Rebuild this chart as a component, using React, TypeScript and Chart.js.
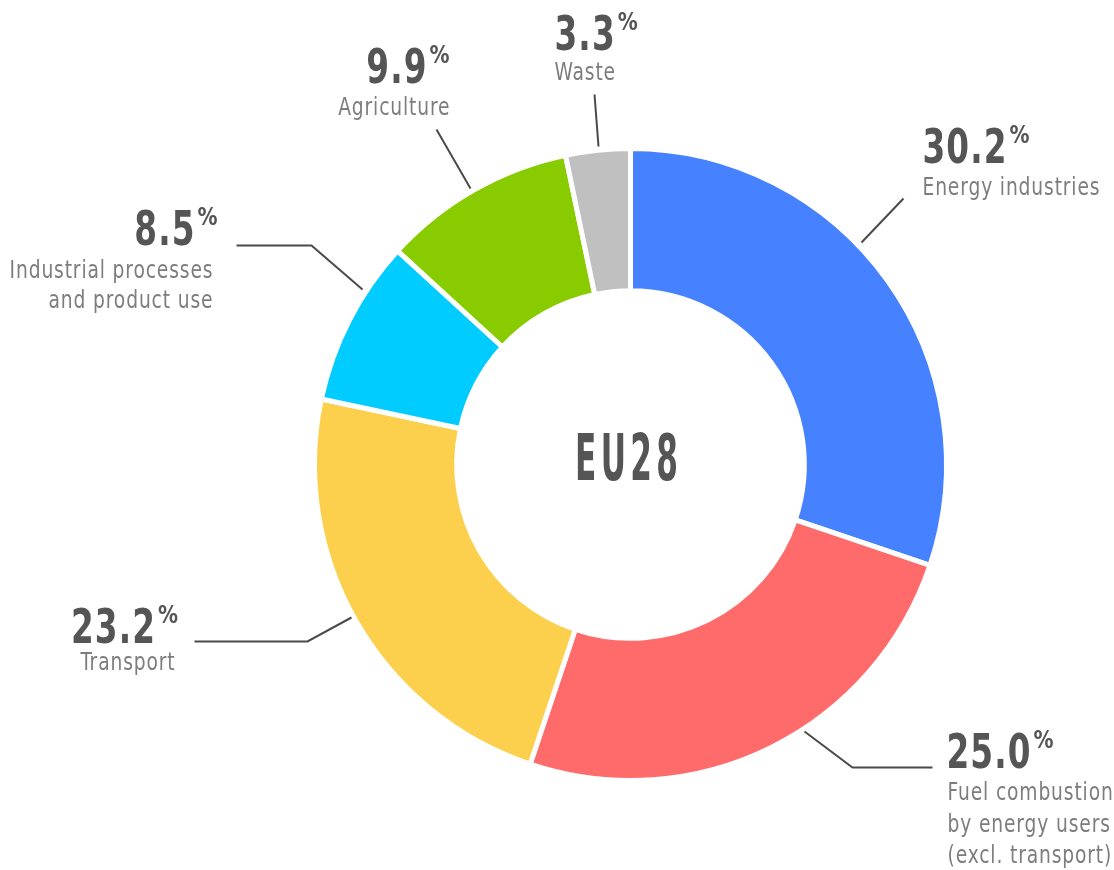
import React, { useEffect, useRef } from "react";
import { Chart, registerables } from "chart.js";

Chart.register(...registerables);

// ---- data ----
const categories = [
  "Energy industries",
  "Fuel combustion by energy users (excl. transport)",
  "Transport",
  "Industrial processes and product use",
  "Agriculture",
  "Waste",
];
const shares = [30.2, 25.0, 23.2, 8.5, 9.9, 3.3];
const labelLines = [
  ["Energy industries"],
  ["Fuel combustion", "by energy users", "(excl. transport)"],
  ["Transport"],
  ["Industrial processes", "and product use"],
  ["Agriculture"],
  ["Waste"],
];
const centerTitle = "EU28";

// ---- styles / layout ----
const colors = ["#4682FF", "#FF6B6B", "#FCD04C", "#00CCFF", "#88CC00", "#C0C0C0"];
const FONT_FAMILY = '"Liberation Sans Narrow", "DejaVu Sans Condensed", "Arial Narrow", sans-serif';
const NUM_COLOR = "#555555";
const LABEL_COLOR = "#7d7d7d";
const LINE_COLOR = "#4a4a4a";

// positions relative to the doughnut centre
type Layout = {
  align: "left" | "right" | "center";
  x: number;
  y: number; // number baseline
  labelX: number;
  labelAlign: "left" | "right" | "center";
  labelY: number[]; // baselines of label lines
  line: number[][];
};
const labelLayout: Layout[] = [
  { align: "left", x: 292, y: -302, labelX: 292, labelAlign: "left", labelY: [-270], line: [[231, -222], [273, -266]] },
  { align: "left", x: 316, y: 303, labelX: 317, labelAlign: "left", labelY: [335, 367, 398], line: [[174, 267], [222, 303], [302, 303]] },
  { align: "center", x: -506, y: 178, labelX: -503, labelAlign: "center", labelY: [205], line: [[-279, 153], [-323, 177], [-436, 177]] },
  { align: "right", x: -413, y: -220, labelX: -418, labelAlign: "right", labelY: [-187, -157], line: [[-268, -175], [-319, -219], [-394, -219]] },
  { align: "right", x: -181, y: -382, labelX: -181, labelAlign: "right", labelY: [-350], line: [[-160, -276], [-194, -335]] },
  { align: "left", x: -76, y: -415, labelX: -76, labelAlign: "left", labelY: [-385], line: [[-32, -318], [-36, -370]] },
];

// reference widths used to calibrate the horizontal squeeze of each text style
const NUM_REF = { text: "30.2", width: 84 };
const PCT_REF = { text: "%", width: 20 };
const LAB_REF = { text: "Energy industries", width: 177 };
const TITLE_REF = { text: "EU28", width: 103 };

function rawWidth(ctx: CanvasRenderingContext2D, text: string, font: string, ls: number) {
  ctx.font = font;
  (ctx as any).letterSpacing = ls + "px";
  return ctx.measureText(text).width - ls;
}

function drawScaled(
  ctx: CanvasRenderingContext2D,
  text: string,
  x: number,
  y: number,
  font: string,
  ls: number,
  sx: number,
  color: string
) {
  ctx.save();
  ctx.translate(x, y);
  ctx.scale(sx, 1);
  ctx.font = font;
  (ctx as any).letterSpacing = ls + "px";
  ctx.fillStyle = color;
  ctx.textAlign = "left";
  ctx.textBaseline = "alphabetic";
  ctx.fillText(text, 0, 0);
  ctx.restore();
}

const labelPlugin = {
  id: "leaderLabels",
  afterDraw(chart: any) {
    const ctx: CanvasRenderingContext2D = chart.ctx;
    const meta = chart.getDatasetMeta(0);
    if (!meta.data.length) return;
    const cx = meta.data[0].x;
    const cy = meta.data[0].y;
    ctx.save();

    // leader lines
    ctx.strokeStyle = LINE_COLOR;
    ctx.lineWidth = 2;
    ctx.lineJoin = "miter";
    labelLayout.forEach((l) => {
      ctx.beginPath();
      l.line.forEach((p, i) => {
        if (i === 0) ctx.moveTo(cx + p[0], cy + p[1]);
        else ctx.lineTo(cx + p[0], cy + p[1]);
      });
      ctx.stroke();
    });

    const numFont = `bold 48px ${FONT_FAMILY}`;
    const pctFont = `bold 25px ${FONT_FAMILY}`;
    const labFont = `24px ${FONT_FAMILY}`;
    const numLS = 1.5;
    const labLS = 1;
    const numSx = NUM_REF.width / rawWidth(ctx, NUM_REF.text, numFont, numLS);
    const pctSx = Math.min(1, PCT_REF.width / rawWidth(ctx, PCT_REF.text, pctFont, 0));
    const labSx = LAB_REF.width / rawWidth(ctx, LAB_REF.text, labFont, labLS);

    shares.forEach((v, i) => {
      const l = labelLayout[i];
      const numText = v.toFixed(1);
      const wN = rawWidth(ctx, numText, numFont, numLS) * numSx;
      const wP = rawWidth(ctx, "%", pctFont, 0) * pctSx;
      const gap = 3;
      const total = wN + gap + wP;
      let x0 = cx + l.x;
      if (l.align === "right") x0 -= total;
      else if (l.align === "center") x0 -= total / 2;
      const by = cy + l.y;
      drawScaled(ctx, numText, x0, by, numFont, numLS, numSx, NUM_COLOR);
      drawScaled(ctx, "%", x0 + wN + gap, by - 20, pctFont, 0, pctSx, NUM_COLOR);

      labelLines[i].forEach((t, k) => {
        const w = rawWidth(ctx, t, labFont, labLS) * labSx;
        let lx = cx + l.labelX;
        if (l.labelAlign === "right") lx -= w;
        else if (l.labelAlign === "center") lx -= w / 2;
        drawScaled(ctx, t, lx, cy + l.labelY[k], labFont, labLS, labSx, LABEL_COLOR);
      });
    });

    // centre title
    const tFont = `bold 64px ${FONT_FAMILY}`;
    const tLS = 8;
    const tSx = TITLE_REF.width / rawWidth(ctx, TITLE_REF.text, tFont, tLS);
    const wT = rawWidth(ctx, centerTitle, tFont, tLS) * tSx;
    drawScaled(ctx, centerTitle, cx - 4 - wT / 2, cy + 15, tFont, tLS, tSx, NUM_COLOR);

    ctx.restore();
  },
};

const W = 1114;
const H = 870;

export default function App() {
  const ref = useRef<HTMLCanvasElement | null>(null);
  useEffect(() => {
    if (!ref.current) return;
    const chart = new Chart(ref.current, {
      type: "doughnut",
      data: {
        labels: categories,
        datasets: [
          {
            data: shares,
            backgroundColor: colors,
            borderColor: "#ffffff",
            borderWidth: 5,
            hoverOffset: 0,
            offset: 0,
          },
        ],
      },
      options: {
        responsive: false,
        animation: false,
        cutout: "55%",
        layout: { padding: { left: 312, right: 165, top: 146, bottom: 87 } },
        plugins: {
          legend: { display: false },
          tooltip: { enabled: false },
        },
        events: [],
      },
      plugins: [labelPlugin],
    });
    return () => chart.destroy();
  }, []);
  return (
    <div style={{ position: "absolute", left: 0, top: 0, width: W, height: H, overflow: "hidden", background: "#ffffff" }}>
      <canvas ref={ref} width={W} height={H} style={{ width: W, height: H, display: "block" }} />
    </div>
  );
}
